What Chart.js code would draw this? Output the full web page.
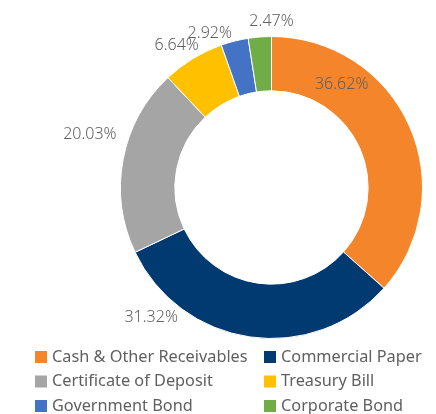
<!DOCTYPE html>
<html>
<head>
<meta charset="utf-8">
<script src="https://cdn.jsdelivr.net/npm/chart.js@4"></script>
<style>
  html, body { margin: 0; padding: 0; background: #ffffff; }
  #wrap { position: relative; width: 436px; height: 414px; overflow: hidden; }
  canvas { display: block; }
</style>
</head>
<body>
<div id="wrap"><canvas id="c" width="436" height="414"></canvas></div>
<script>
const categories = ["Cash & Other Receivables", "Commercial Paper", "Certificate of Deposit", "Treasury Bill", "Government Bond", "Corporate Bond"];
const values = [36.62, 31.32, 20.03, 6.64, 2.92, 2.47];
const valueLabels = ["36.62%", "31.32%", "20.03%", "6.64%", "2.92%", "2.47%"];
const colors = ["#F4852A", "#003A70", "#A5A5A5", "#FFC000", "#4472C4", "#70AD47"];

// label placement: fraction along the arc, and radius as multiple of outer radius
const labelPlacement = [
  { f: 0.26, r: 0.825 },
  { f: 0.806, r: 1.175 },
  { f: 0.58, r: 1.254 },
  { f: 0.40, r: 1.13 },
  { f: -0.23, r: 1.10 },
  { f: 1.0, r: 1.10 }
];

const FONT = '"Noto Sans", "Open Sans", sans-serif';
const TEXT = '#606060';

const labelPlugin = {
  id: 'sliceLabels',
  afterDatasetsDraw(chart) {
    const ctx = chart.ctx;
    const meta = chart.getDatasetMeta(0);
    ctx.save();
    ctx.font = '300 16px ' + FONT;
    ctx.fillStyle = TEXT;
    ctx.textAlign = 'center';
    ctx.textBaseline = 'middle';
    meta.data.forEach((arc, i) => {
      const p = arc.getProps(['x', 'y', 'startAngle', 'endAngle', 'outerRadius'], true);
      const pl = labelPlacement[i];
      const a = p.startAngle + (p.endAngle - p.startAngle) * pl.f;
      const rr = p.outerRadius * pl.r;
      ctx.fillText(valueLabels[i], p.x + Math.cos(a) * rr, p.y + Math.sin(a) * rr);
    });
    ctx.restore();
  }
};

const legendPlugin = {
  id: 'gridLegend',
  afterDraw(chart) {
    const ctx = chart.ctx;
    const colX = [35, 264];
    const rowY = [357, 381.5, 406];
    ctx.save();
    ctx.font = '16.3px ' + FONT;
    ctx.textBaseline = 'middle';
    ctx.textAlign = 'left';
    categories.forEach((name, i) => {
      const x = colX[i % 2];
      const y = rowY[Math.floor(i / 2)];
      ctx.fillStyle = colors[i];
      ctx.fillRect(x, y - 6, 12, 12);
      ctx.fillStyle = TEXT;
      ctx.fillText(name, x + 17, y);
    });
    ctx.restore();
  }
};

new Chart(document.getElementById('c'), {
  type: 'doughnut',
  data: {
    labels: categories,
    datasets: [{
      data: values,
      backgroundColor: colors,
      borderColor: '#ffffff',
      borderWidth: 1
    }]
  },
  options: {
    responsive: false,
    animation: false,
    cutout: '64%',
    layout: { padding: { left: 120, right: 13, top: 36, bottom: 75 } },
    plugins: {
      legend: { display: false },
      tooltip: { enabled: false }
    }
  },
  plugins: [labelPlugin, legendPlugin]
});
</script>
</body>
</html>
